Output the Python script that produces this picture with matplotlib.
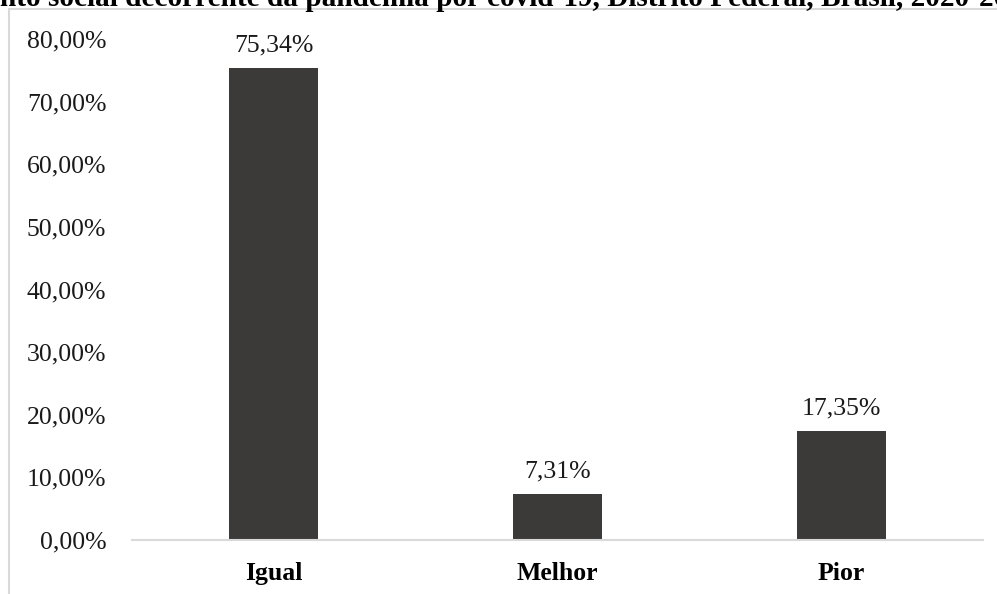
import matplotlib.pyplot as plt
from matplotlib.patches import Rectangle

plt.rcParams["font.family"] = ["Liberation Serif", "DejaVu Serif"]

categories = ["Igual", "Melhor", "Pior"]
values = [75.34, 7.31, 17.35]
value_labels = ["75,34%", "7,31%", "17,35%"]
yticks = [0, 10, 20, 30, 40, 50, 60, 70, 80]
ytick_labels = ["0,00%", "10,00%", "20,00%", "30,00%", "40,00%",
                "50,00%", "60,00%", "70,00%", "80,00%"]
title = ("nto social decorrente da pandemia por covid-19, "
         "Distrito Federal, Brasil, 2020-2021")

W, H = 997, 594
fig = plt.figure(figsize=(W / 100, H / 100), dpi=100)
ax = fig.add_axes([132 / W, 1 - 540 / H, (983 - 132) / W, (540 - 39) / H])

x = list(range(len(categories)))
bars = ax.bar(x, values, width=0.313, color="#3b3a38")
for bar, label in zip(bars, value_labels):
    ax.annotate(label, (bar.get_x() + bar.get_width() / 2, bar.get_height()),
                xytext=(0, 12), textcoords="offset points",
                ha="center", va="baseline", fontsize=18.5, color="#1a1a1a")

ax.set_xlim(-0.5, 2.5)
ax.set_ylim(0, 80)
ax.set_xticks(x, categories, fontsize=18.5, fontweight="bold")
ax.set_yticks(yticks, ytick_labels, fontsize=18.5, color="#1a1a1a")
ax.tick_params(axis="both", length=0)
ax.tick_params(axis="y", pad=18.5)
ax.tick_params(axis="x", pad=16)
for side in ["top", "right", "left"]:
    ax.spines[side].set_visible(False)
ax.spines["bottom"].set_color("#d9d9d9")
ax.spines["bottom"].set_linewidth(1.5)

# outer chart frame, cut off at the right and bottom
fig.patches.append(Rectangle((9 / W, -0.2), 1.2, 1.2 - 9 / H,
                             transform=fig.transFigure, fill=False,
                             edgecolor="#d9d9d9", linewidth=1.5))
fig.text(0, 1 - 6 / H, title, ha="left", va="baseline",
         fontsize=21.1, fontweight="bold")

fig.savefig("out.png", dpi=100)
